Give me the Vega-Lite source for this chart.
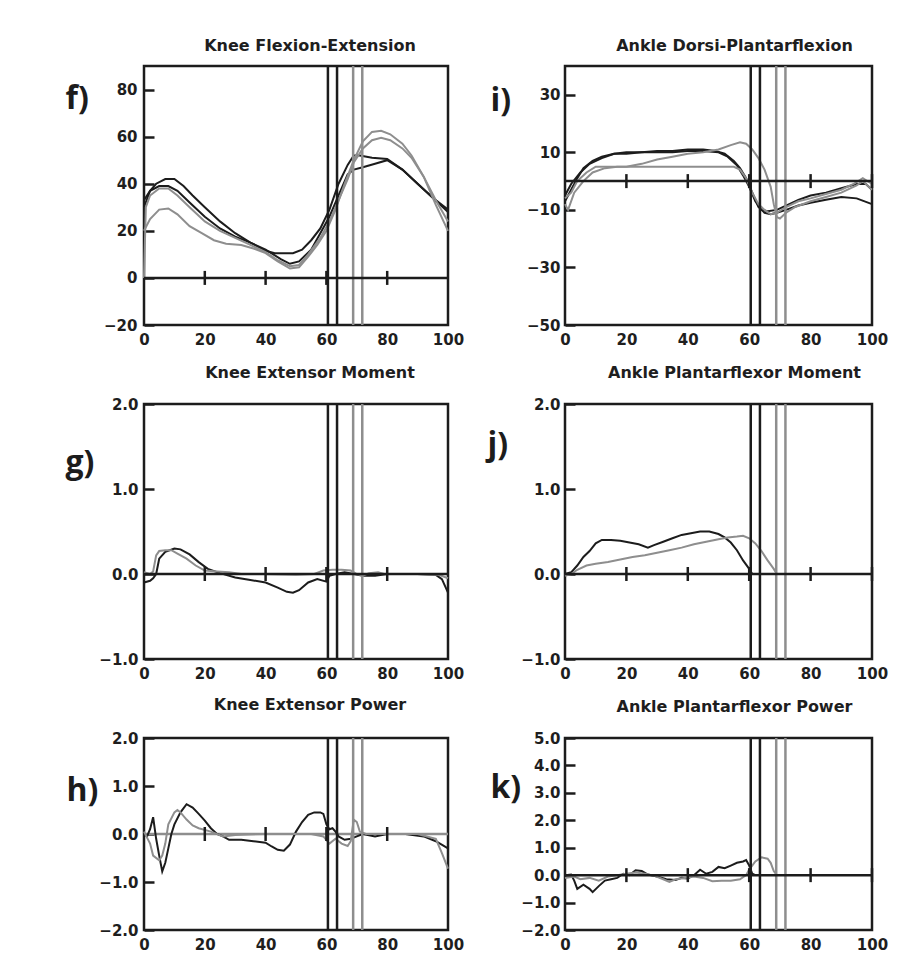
{
  "$schema": "https://vega.github.io/schema/vega-lite/v6.json",
  "padding": {"left": 63, "top": 36, "right": 10, "bottom": 10},
  "background": "white",
  "config": {
    "view": {"stroke": "#1c1c1c", "strokeWidth": 2.5},
    "font": "DejaVu Sans",
    "axis": {"labelFont": "DejaVu Sans", "labelFontWeight": "bold", "labelFontSize": 15, "labelColor": "#1e1e1e", "grid": false, "domain": false, "labelOverlap": false, "tickCount": 12},
    "title": {"font": "DejaVu Sans", "fontSize": 16, "fontWeight": "bold", "color": "#1e1e1e", "anchor": "middle"},
    "line": {"strokeWidth": 2},
    "tick": {"opacity": 1}
  },
  "datasets": {
    "events": [
      {"x": 60.5, "group": "A"}, {"x": 63.5, "group": "A"},
      {"x": 68.8, "group": "B"}, {"x": 71.8, "group": "B"}
    ],
    "ticksA": [{"x": 20}, {"x": 40}, {"x": 60}, {"x": 80}],
    "ticksB": [{"x": 20}, {"x": 40}, {"x": 60}, {"x": 80}, {"x": 100}],
    "f": [
      {"x":0,"y":30,"trial":"A1","group":"A"},{"x":2,"y":37,"trial":"A1","group":"A"},{"x":4,"y":40,"trial":"A1","group":"A"},{"x":7,"y":42,"trial":"A1","group":"A"},{"x":10,"y":42,"trial":"A1","group":"A"},{"x":13,"y":39,"trial":"A1","group":"A"},{"x":16,"y":35,"trial":"A1","group":"A"},{"x":20,"y":30,"trial":"A1","group":"A"},{"x":25,"y":24,"trial":"A1","group":"A"},{"x":30,"y":19,"trial":"A1","group":"A"},{"x":35,"y":15,"trial":"A1","group":"A"},{"x":40,"y":11.5,"trial":"A1","group":"A"},{"x":43,"y":10.5,"trial":"A1","group":"A"},{"x":49,"y":10.5,"trial":"A1","group":"A"},{"x":52,"y":12,"trial":"A1","group":"A"},{"x":55,"y":16,"trial":"A1","group":"A"},{"x":58,"y":21,"trial":"A1","group":"A"},{"x":61,"y":29,"trial":"A1","group":"A"},{"x":64,"y":40,"trial":"A1","group":"A"},{"x":67,"y":48,"trial":"A1","group":"A"},{"x":69,"y":52,"trial":"A1","group":"A"},{"x":71,"y":52,"trial":"A1","group":"A"},{"x":75,"y":51,"trial":"A1","group":"A"},{"x":80,"y":50.5,"trial":"A1","group":"A"},{"x":85,"y":46,"trial":"A1","group":"A"},{"x":90,"y":40,"trial":"A1","group":"A"},{"x":95,"y":34,"trial":"A1","group":"A"},{"x":100,"y":28,"trial":"A1","group":"A"},
      {"x":0,"y":33,"trial":"A2","group":"A"},{"x":2,"y":37,"trial":"A2","group":"A"},{"x":5,"y":39,"trial":"A2","group":"A"},{"x":8,"y":39,"trial":"A2","group":"A"},{"x":11,"y":37,"trial":"A2","group":"A"},{"x":15,"y":32,"trial":"A2","group":"A"},{"x":20,"y":26,"trial":"A2","group":"A"},{"x":25,"y":21,"trial":"A2","group":"A"},{"x":30,"y":17.5,"trial":"A2","group":"A"},{"x":35,"y":15,"trial":"A2","group":"A"},{"x":40,"y":12,"trial":"A2","group":"A"},{"x":45,"y":8,"trial":"A2","group":"A"},{"x":48,"y":6,"trial":"A2","group":"A"},{"x":51,"y":7,"trial":"A2","group":"A"},{"x":55,"y":12,"trial":"A2","group":"A"},{"x":58,"y":19,"trial":"A2","group":"A"},{"x":61,"y":26,"trial":"A2","group":"A"},{"x":64,"y":35,"trial":"A2","group":"A"},{"x":67,"y":44,"trial":"A2","group":"A"},{"x":69,"y":46,"trial":"A2","group":"A"},{"x":72,"y":47,"trial":"A2","group":"A"},{"x":76,"y":48.5,"trial":"A2","group":"A"},{"x":80,"y":50,"trial":"A2","group":"A"},{"x":85,"y":46,"trial":"A2","group":"A"},{"x":90,"y":40,"trial":"A2","group":"A"},{"x":95,"y":34,"trial":"A2","group":"A"},{"x":100,"y":29,"trial":"A2","group":"A"},
      {"x":0,"y":20,"trial":"B1","group":"B"},{"x":2,"y":25,"trial":"B1","group":"B"},{"x":5,"y":29,"trial":"B1","group":"B"},{"x":8,"y":29.5,"trial":"B1","group":"B"},{"x":11,"y":27,"trial":"B1","group":"B"},{"x":15,"y":22,"trial":"B1","group":"B"},{"x":19,"y":19,"trial":"B1","group":"B"},{"x":23,"y":16,"trial":"B1","group":"B"},{"x":27,"y":14.5,"trial":"B1","group":"B"},{"x":32,"y":14,"trial":"B1","group":"B"},{"x":36,"y":12.5,"trial":"B1","group":"B"},{"x":40,"y":10.5,"trial":"B1","group":"B"},{"x":44,"y":7,"trial":"B1","group":"B"},{"x":48,"y":4,"trial":"B1","group":"B"},{"x":51,"y":4.5,"trial":"B1","group":"B"},{"x":54,"y":9,"trial":"B1","group":"B"},{"x":57,"y":14,"trial":"B1","group":"B"},{"x":60,"y":20,"trial":"B1","group":"B"},{"x":63,"y":29,"trial":"B1","group":"B"},{"x":66,"y":40,"trial":"B1","group":"B"},{"x":69,"y":50,"trial":"B1","group":"B"},{"x":72,"y":58,"trial":"B1","group":"B"},{"x":75,"y":62,"trial":"B1","group":"B"},{"x":78,"y":62.5,"trial":"B1","group":"B"},{"x":81,"y":61,"trial":"B1","group":"B"},{"x":85,"y":57,"trial":"B1","group":"B"},{"x":88,"y":52,"trial":"B1","group":"B"},{"x":92,"y":43,"trial":"B1","group":"B"},{"x":96,"y":31,"trial":"B1","group":"B"},{"x":100,"y":20,"trial":"B1","group":"B"},
      {"x":0,"y":0,"trial":"B2","group":"B"},{"x":0.6,"y":30,"trial":"B2","group":"B"},{"x":2,"y":35,"trial":"B2","group":"B"},{"x":5,"y":38,"trial":"B2","group":"B"},{"x":8,"y":38,"trial":"B2","group":"B"},{"x":11,"y":35,"trial":"B2","group":"B"},{"x":15,"y":30,"trial":"B2","group":"B"},{"x":20,"y":24,"trial":"B2","group":"B"},{"x":25,"y":20,"trial":"B2","group":"B"},{"x":30,"y":17,"trial":"B2","group":"B"},{"x":35,"y":14,"trial":"B2","group":"B"},{"x":40,"y":11,"trial":"B2","group":"B"},{"x":44,"y":7.5,"trial":"B2","group":"B"},{"x":48,"y":5,"trial":"B2","group":"B"},{"x":51,"y":5.5,"trial":"B2","group":"B"},{"x":54,"y":10,"trial":"B2","group":"B"},{"x":58,"y":17,"trial":"B2","group":"B"},{"x":61,"y":24,"trial":"B2","group":"B"},{"x":64,"y":33,"trial":"B2","group":"B"},{"x":67,"y":42,"trial":"B2","group":"B"},{"x":69,"y":49,"trial":"B2","group":"B"},{"x":72,"y":55,"trial":"B2","group":"B"},{"x":75,"y":58.5,"trial":"B2","group":"B"},{"x":78,"y":59.5,"trial":"B2","group":"B"},{"x":81,"y":58.5,"trial":"B2","group":"B"},{"x":85,"y":55,"trial":"B2","group":"B"},{"x":88,"y":51,"trial":"B2","group":"B"},{"x":92,"y":43,"trial":"B2","group":"B"},{"x":96,"y":33,"trial":"B2","group":"B"},{"x":100,"y":24,"trial":"B2","group":"B"}
    ],
    "i": [
      {"x":0,"y":-7,"trial":"A1","group":"A"},{"x":2,"y":-3,"trial":"A1","group":"A"},{"x":4,"y":1,"trial":"A1","group":"A"},{"x":6,"y":4.5,"trial":"A1","group":"A"},{"x":9,"y":7,"trial":"A1","group":"A"},{"x":12,"y":8.5,"trial":"A1","group":"A"},{"x":16,"y":9.5,"trial":"A1","group":"A"},{"x":20,"y":10,"trial":"A1","group":"A"},{"x":25,"y":10,"trial":"A1","group":"A"},{"x":30,"y":10.5,"trial":"A1","group":"A"},{"x":35,"y":10.5,"trial":"A1","group":"A"},{"x":40,"y":11,"trial":"A1","group":"A"},{"x":45,"y":11,"trial":"A1","group":"A"},{"x":49,"y":10.5,"trial":"A1","group":"A"},{"x":52,"y":9.5,"trial":"A1","group":"A"},{"x":55,"y":7,"trial":"A1","group":"A"},{"x":57,"y":4.5,"trial":"A1","group":"A"},{"x":59,"y":1,"trial":"A1","group":"A"},{"x":61,"y":-4,"trial":"A1","group":"A"},{"x":63,"y":-9,"trial":"A1","group":"A"},{"x":65,"y":-11,"trial":"A1","group":"A"},{"x":67,"y":-11.5,"trial":"A1","group":"A"},{"x":69,"y":-11,"trial":"A1","group":"A"},{"x":72,"y":-10,"trial":"A1","group":"A"},{"x":76,"y":-8.5,"trial":"A1","group":"A"},{"x":80,"y":-7.5,"trial":"A1","group":"A"},{"x":85,"y":-6.5,"trial":"A1","group":"A"},{"x":90,"y":-5.5,"trial":"A1","group":"A"},{"x":95,"y":-6,"trial":"A1","group":"A"},{"x":100,"y":-8,"trial":"A1","group":"A"},
      {"x":0,"y":-5,"trial":"A2","group":"A"},{"x":2,"y":-1,"trial":"A2","group":"A"},{"x":5,"y":3,"trial":"A2","group":"A"},{"x":8,"y":6,"trial":"A2","group":"A"},{"x":12,"y":8,"trial":"A2","group":"A"},{"x":16,"y":9.5,"trial":"A2","group":"A"},{"x":20,"y":9.5,"trial":"A2","group":"A"},{"x":25,"y":10,"trial":"A2","group":"A"},{"x":30,"y":10,"trial":"A2","group":"A"},{"x":35,"y":10,"trial":"A2","group":"A"},{"x":40,"y":10.5,"trial":"A2","group":"A"},{"x":45,"y":10.5,"trial":"A2","group":"A"},{"x":50,"y":10,"trial":"A2","group":"A"},{"x":53,"y":8.5,"trial":"A2","group":"A"},{"x":56,"y":5.5,"trial":"A2","group":"A"},{"x":58,"y":2,"trial":"A2","group":"A"},{"x":60,"y":-2,"trial":"A2","group":"A"},{"x":62,"y":-7,"trial":"A2","group":"A"},{"x":64,"y":-10,"trial":"A2","group":"A"},{"x":66,"y":-10.5,"trial":"A2","group":"A"},{"x":69,"y":-10,"trial":"A2","group":"A"},{"x":72,"y":-8.5,"trial":"A2","group":"A"},{"x":76,"y":-6.5,"trial":"A2","group":"A"},{"x":80,"y":-5,"trial":"A2","group":"A"},{"x":85,"y":-4,"trial":"A2","group":"A"},{"x":90,"y":-2.5,"trial":"A2","group":"A"},{"x":95,"y":-1,"trial":"A2","group":"A"},{"x":98,"y":-1,"trial":"A2","group":"A"},{"x":100,"y":-3,"trial":"A2","group":"A"},
      {"x":0,"y":-8,"trial":"B1","group":"B"},{"x":1,"y":-10,"trial":"B1","group":"B"},{"x":3,"y":-4,"trial":"B1","group":"B"},{"x":6,"y":0,"trial":"B1","group":"B"},{"x":9,"y":3,"trial":"B1","group":"B"},{"x":13,"y":4.5,"trial":"B1","group":"B"},{"x":17,"y":5,"trial":"B1","group":"B"},{"x":20,"y":5,"trial":"B1","group":"B"},{"x":25,"y":6,"trial":"B1","group":"B"},{"x":30,"y":7.5,"trial":"B1","group":"B"},{"x":35,"y":8.5,"trial":"B1","group":"B"},{"x":40,"y":9.5,"trial":"B1","group":"B"},{"x":45,"y":10,"trial":"B1","group":"B"},{"x":50,"y":11,"trial":"B1","group":"B"},{"x":54,"y":12.5,"trial":"B1","group":"B"},{"x":57,"y":13.5,"trial":"B1","group":"B"},{"x":59,"y":13,"trial":"B1","group":"B"},{"x":61,"y":11,"trial":"B1","group":"B"},{"x":63,"y":8,"trial":"B1","group":"B"},{"x":65,"y":4,"trial":"B1","group":"B"},{"x":67,"y":-2,"trial":"B1","group":"B"},{"x":68,"y":-8,"trial":"B1","group":"B"},{"x":69,"y":-12.5,"trial":"B1","group":"B"},{"x":70,"y":-13,"trial":"B1","group":"B"},{"x":72,"y":-11,"trial":"B1","group":"B"},{"x":75,"y":-9,"trial":"B1","group":"B"},{"x":80,"y":-7,"trial":"B1","group":"B"},{"x":85,"y":-5.5,"trial":"B1","group":"B"},{"x":90,"y":-4,"trial":"B1","group":"B"},{"x":95,"y":-1.5,"trial":"B1","group":"B"},{"x":97,"y":0,"trial":"B1","group":"B"},{"x":100,"y":-3,"trial":"B1","group":"B"},
      {"x":0,"y":-6,"trial":"B2","group":"B"},{"x":2,"y":-4,"trial":"B2","group":"B"},{"x":4,"y":0,"trial":"B2","group":"B"},{"x":7,"y":3,"trial":"B2","group":"B"},{"x":10,"y":5,"trial":"B2","group":"B"},{"x":15,"y":5,"trial":"B2","group":"B"},{"x":25,"y":5,"trial":"B2","group":"B"},{"x":35,"y":5,"trial":"B2","group":"B"},{"x":45,"y":5,"trial":"B2","group":"B"},{"x":55,"y":5,"trial":"B2","group":"B"},{"x":57,"y":4,"trial":"B2","group":"B"},{"x":59,"y":1,"trial":"B2","group":"B"},{"x":61,"y":-4,"trial":"B2","group":"B"},{"x":63,"y":-8,"trial":"B2","group":"B"},{"x":65,"y":-10,"trial":"B2","group":"B"},{"x":67,"y":-11.5,"trial":"B2","group":"B"},{"x":69,"y":-11,"trial":"B2","group":"B"},{"x":72,"y":-9,"trial":"B2","group":"B"},{"x":76,"y":-7,"trial":"B2","group":"B"},{"x":80,"y":-6,"trial":"B2","group":"B"},{"x":85,"y":-4.5,"trial":"B2","group":"B"},{"x":90,"y":-3,"trial":"B2","group":"B"},{"x":94,"y":-1,"trial":"B2","group":"B"},{"x":97,"y":1,"trial":"B2","group":"B"},{"x":100,"y":-1,"trial":"B2","group":"B"}
    ],
    "g": [
      {"x":0,"y":-0.1,"trial":"A1","group":"A"},{"x":2,"y":-0.08,"trial":"A1","group":"A"},{"x":3,"y":-0.05,"trial":"A1","group":"A"},{"x":4,"y":0,"trial":"A1","group":"A"},{"x":5,"y":0.18,"trial":"A1","group":"A"},{"x":7,"y":0.26,"trial":"A1","group":"A"},{"x":10,"y":0.3,"trial":"A1","group":"A"},{"x":12,"y":0.29,"trial":"A1","group":"A"},{"x":15,"y":0.23,"trial":"A1","group":"A"},{"x":18,"y":0.14,"trial":"A1","group":"A"},{"x":21,"y":0.06,"trial":"A1","group":"A"},{"x":25,"y":0.01,"trial":"A1","group":"A"},{"x":30,"y":-0.04,"trial":"A1","group":"A"},{"x":35,"y":-0.07,"trial":"A1","group":"A"},{"x":40,"y":-0.1,"trial":"A1","group":"A"},{"x":44,"y":-0.16,"trial":"A1","group":"A"},{"x":47,"y":-0.21,"trial":"A1","group":"A"},{"x":49,"y":-0.22,"trial":"A1","group":"A"},{"x":51,"y":-0.19,"trial":"A1","group":"A"},{"x":54,"y":-0.1,"trial":"A1","group":"A"},{"x":57,"y":-0.06,"trial":"A1","group":"A"},{"x":60,"y":-0.09,"trial":"A1","group":"A"},{"x":61,"y":-0.02,"trial":"A1","group":"A"},{"x":63,"y":0,"trial":"A1","group":"A"},{"x":66,"y":0.02,"trial":"A1","group":"A"},{"x":69,"y":0,"trial":"A1","group":"A"},{"x":72,"y":-0.02,"trial":"A1","group":"A"},{"x":76,"y":-0.02,"trial":"A1","group":"A"},{"x":80,"y":0,"trial":"A1","group":"A"},{"x":90,"y":0,"trial":"A1","group":"A"},{"x":96,"y":-0.01,"trial":"A1","group":"A"},{"x":98,"y":-0.06,"trial":"A1","group":"A"},{"x":100,"y":-0.22,"trial":"A1","group":"A"},
      {"x":0,"y":0.02,"trial":"B1","group":"B"},{"x":2,"y":0,"trial":"B1","group":"B"},{"x":3,"y":0.03,"trial":"B1","group":"B"},{"x":4,"y":0.22,"trial":"B1","group":"B"},{"x":5,"y":0.27,"trial":"B1","group":"B"},{"x":7,"y":0.28,"trial":"B1","group":"B"},{"x":9,"y":0.28,"trial":"B1","group":"B"},{"x":11,"y":0.24,"trial":"B1","group":"B"},{"x":14,"y":0.18,"trial":"B1","group":"B"},{"x":17,"y":0.1,"trial":"B1","group":"B"},{"x":20,"y":0.04,"trial":"B1","group":"B"},{"x":24,"y":0.03,"trial":"B1","group":"B"},{"x":28,"y":0.02,"trial":"B1","group":"B"},{"x":32,"y":0,"trial":"B1","group":"B"},{"x":40,"y":0,"trial":"B1","group":"B"},{"x":50,"y":-0.01,"trial":"B1","group":"B"},{"x":56,"y":0,"trial":"B1","group":"B"},{"x":59,"y":0.04,"trial":"B1","group":"B"},{"x":62,"y":0.05,"trial":"B1","group":"B"},{"x":65,"y":0.05,"trial":"B1","group":"B"},{"x":68,"y":0.04,"trial":"B1","group":"B"},{"x":70,"y":0,"trial":"B1","group":"B"},{"x":72,"y":-0.02,"trial":"B1","group":"B"},{"x":74,"y":0.01,"trial":"B1","group":"B"},{"x":77,"y":0.02,"trial":"B1","group":"B"},{"x":79,"y":0,"trial":"B1","group":"B"},{"x":90,"y":0,"trial":"B1","group":"B"},{"x":97,"y":-0.01,"trial":"B1","group":"B"},{"x":100,"y":-0.05,"trial":"B1","group":"B"}
    ],
    "j": [
      {"x":0,"y":0,"trial":"A1","group":"A"},{"x":2,"y":0.02,"trial":"A1","group":"A"},{"x":4,"y":0.1,"trial":"A1","group":"A"},{"x":6,"y":0.2,"trial":"A1","group":"A"},{"x":8,"y":0.27,"trial":"A1","group":"A"},{"x":10,"y":0.36,"trial":"A1","group":"A"},{"x":12,"y":0.4,"trial":"A1","group":"A"},{"x":15,"y":0.4,"trial":"A1","group":"A"},{"x":18,"y":0.39,"trial":"A1","group":"A"},{"x":21,"y":0.37,"trial":"A1","group":"A"},{"x":24,"y":0.35,"trial":"A1","group":"A"},{"x":27,"y":0.31,"trial":"A1","group":"A"},{"x":29,"y":0.34,"trial":"A1","group":"A"},{"x":32,"y":0.38,"trial":"A1","group":"A"},{"x":35,"y":0.42,"trial":"A1","group":"A"},{"x":38,"y":0.46,"trial":"A1","group":"A"},{"x":41,"y":0.48,"trial":"A1","group":"A"},{"x":44,"y":0.5,"trial":"A1","group":"A"},{"x":47,"y":0.5,"trial":"A1","group":"A"},{"x":50,"y":0.47,"trial":"A1","group":"A"},{"x":52,"y":0.43,"trial":"A1","group":"A"},{"x":54,"y":0.37,"trial":"A1","group":"A"},{"x":56,"y":0.28,"trial":"A1","group":"A"},{"x":58,"y":0.16,"trial":"A1","group":"A"},{"x":60,"y":0.06,"trial":"A1","group":"A"},{"x":61,"y":0,"trial":"A1","group":"A"},
      {"x":0,"y":-0.02,"trial":"B1","group":"B"},{"x":2,"y":0,"trial":"B1","group":"B"},{"x":4,"y":0.05,"trial":"B1","group":"B"},{"x":7,"y":0.1,"trial":"B1","group":"B"},{"x":10,"y":0.12,"trial":"B1","group":"B"},{"x":14,"y":0.14,"trial":"B1","group":"B"},{"x":18,"y":0.17,"trial":"B1","group":"B"},{"x":22,"y":0.2,"trial":"B1","group":"B"},{"x":26,"y":0.22,"trial":"B1","group":"B"},{"x":30,"y":0.25,"trial":"B1","group":"B"},{"x":34,"y":0.28,"trial":"B1","group":"B"},{"x":38,"y":0.31,"trial":"B1","group":"B"},{"x":42,"y":0.35,"trial":"B1","group":"B"},{"x":46,"y":0.38,"trial":"B1","group":"B"},{"x":50,"y":0.41,"trial":"B1","group":"B"},{"x":53,"y":0.43,"trial":"B1","group":"B"},{"x":56,"y":0.44,"trial":"B1","group":"B"},{"x":58,"y":0.45,"trial":"B1","group":"B"},{"x":60,"y":0.42,"trial":"B1","group":"B"},{"x":62,"y":0.36,"trial":"B1","group":"B"},{"x":64,"y":0.27,"trial":"B1","group":"B"},{"x":66,"y":0.16,"trial":"B1","group":"B"},{"x":68,"y":0.06,"trial":"B1","group":"B"},{"x":69,"y":0,"trial":"B1","group":"B"}
    ],
    "h": [
      {"x":0,"y":0,"trial":"A1","group":"A"},{"x":1,"y":-0.05,"trial":"A1","group":"A"},{"x":2,"y":0.1,"trial":"A1","group":"A"},{"x":3,"y":0.35,"trial":"A1","group":"A"},{"x":4,"y":-0.1,"trial":"A1","group":"A"},{"x":5,"y":-0.45,"trial":"A1","group":"A"},{"x":6,"y":-0.78,"trial":"A1","group":"A"},{"x":7,"y":-0.6,"trial":"A1","group":"A"},{"x":8,"y":-0.3,"trial":"A1","group":"A"},{"x":9,"y":0,"trial":"A1","group":"A"},{"x":10,"y":0.2,"trial":"A1","group":"A"},{"x":12,"y":0.45,"trial":"A1","group":"A"},{"x":14,"y":0.62,"trial":"A1","group":"A"},{"x":16,"y":0.55,"trial":"A1","group":"A"},{"x":18,"y":0.42,"trial":"A1","group":"A"},{"x":20,"y":0.28,"trial":"A1","group":"A"},{"x":22,"y":0.12,"trial":"A1","group":"A"},{"x":24,"y":0,"trial":"A1","group":"A"},{"x":26,"y":-0.05,"trial":"A1","group":"A"},{"x":28,"y":-0.12,"trial":"A1","group":"A"},{"x":32,"y":-0.12,"trial":"A1","group":"A"},{"x":36,"y":-0.15,"trial":"A1","group":"A"},{"x":40,"y":-0.18,"trial":"A1","group":"A"},{"x":42,"y":-0.26,"trial":"A1","group":"A"},{"x":44,"y":-0.33,"trial":"A1","group":"A"},{"x":46,"y":-0.35,"trial":"A1","group":"A"},{"x":48,"y":-0.22,"trial":"A1","group":"A"},{"x":50,"y":0.05,"trial":"A1","group":"A"},{"x":52,"y":0.25,"trial":"A1","group":"A"},{"x":54,"y":0.4,"trial":"A1","group":"A"},{"x":56,"y":0.45,"trial":"A1","group":"A"},{"x":58,"y":0.45,"trial":"A1","group":"A"},{"x":59,"y":0.42,"trial":"A1","group":"A"},{"x":60,"y":0.2,"trial":"A1","group":"A"},{"x":61,"y":0.1,"trial":"A1","group":"A"},{"x":62,"y":0.12,"trial":"A1","group":"A"},{"x":63,"y":0.05,"trial":"A1","group":"A"},{"x":64,"y":-0.05,"trial":"A1","group":"A"},{"x":66,"y":-0.12,"trial":"A1","group":"A"},{"x":68,"y":-0.1,"trial":"A1","group":"A"},{"x":70,"y":-0.05,"trial":"A1","group":"A"},{"x":72,"y":0,"trial":"A1","group":"A"},{"x":76,"y":-0.05,"trial":"A1","group":"A"},{"x":80,"y":0,"trial":"A1","group":"A"},{"x":86,"y":0,"trial":"A1","group":"A"},{"x":92,"y":-0.05,"trial":"A1","group":"A"},{"x":96,"y":-0.15,"trial":"A1","group":"A"},{"x":100,"y":-0.3,"trial":"A1","group":"A"},
      {"x":0,"y":0.05,"trial":"B1","group":"B"},{"x":2,"y":-0.2,"trial":"B1","group":"B"},{"x":3,"y":-0.45,"trial":"B1","group":"B"},{"x":5,"y":-0.55,"trial":"B1","group":"B"},{"x":6,"y":-0.45,"trial":"B1","group":"B"},{"x":7,"y":-0.2,"trial":"B1","group":"B"},{"x":8,"y":0.2,"trial":"B1","group":"B"},{"x":10,"y":0.45,"trial":"B1","group":"B"},{"x":11,"y":0.5,"trial":"B1","group":"B"},{"x":12,"y":0.45,"trial":"B1","group":"B"},{"x":14,"y":0.3,"trial":"B1","group":"B"},{"x":16,"y":0.18,"trial":"B1","group":"B"},{"x":18,"y":0.12,"trial":"B1","group":"B"},{"x":22,"y":0.05,"trial":"B1","group":"B"},{"x":26,"y":-0.05,"trial":"B1","group":"B"},{"x":30,"y":-0.02,"trial":"B1","group":"B"},{"x":40,"y":0,"trial":"B1","group":"B"},{"x":55,"y":0,"trial":"B1","group":"B"},{"x":59,"y":-0.05,"trial":"B1","group":"B"},{"x":61,"y":-0.2,"trial":"B1","group":"B"},{"x":63,"y":-0.1,"trial":"B1","group":"B"},{"x":65,"y":-0.2,"trial":"B1","group":"B"},{"x":67,"y":-0.25,"trial":"B1","group":"B"},{"x":68,"y":-0.15,"trial":"B1","group":"B"},{"x":69,"y":0.3,"trial":"B1","group":"B"},{"x":70,"y":0.25,"trial":"B1","group":"B"},{"x":71,"y":0.05,"trial":"B1","group":"B"},{"x":73,"y":0,"trial":"B1","group":"B"},{"x":80,"y":0,"trial":"B1","group":"B"},{"x":90,"y":0,"trial":"B1","group":"B"},{"x":96,"y":-0.1,"trial":"B1","group":"B"},{"x":98,"y":-0.4,"trial":"B1","group":"B"},{"x":100,"y":-0.72,"trial":"B1","group":"B"}
    ],
    "k": [
      {"x":0,"y":0,"trial":"A1","group":"A"},{"x":2,"y":0.02,"trial":"A1","group":"A"},{"x":3,"y":-0.2,"trial":"A1","group":"A"},{"x":4,"y":-0.5,"trial":"A1","group":"A"},{"x":6,"y":-0.35,"trial":"A1","group":"A"},{"x":8,"y":-0.5,"trial":"A1","group":"A"},{"x":9,"y":-0.62,"trial":"A1","group":"A"},{"x":11,"y":-0.4,"trial":"A1","group":"A"},{"x":13,"y":-0.2,"trial":"A1","group":"A"},{"x":15,"y":-0.15,"trial":"A1","group":"A"},{"x":17,"y":-0.1,"trial":"A1","group":"A"},{"x":19,"y":0.05,"trial":"A1","group":"A"},{"x":21,"y":0,"trial":"A1","group":"A"},{"x":23,"y":0.18,"trial":"A1","group":"A"},{"x":25,"y":0.15,"trial":"A1","group":"A"},{"x":27,"y":0.02,"trial":"A1","group":"A"},{"x":30,"y":-0.05,"trial":"A1","group":"A"},{"x":33,"y":-0.15,"trial":"A1","group":"A"},{"x":36,"y":-0.18,"trial":"A1","group":"A"},{"x":38,"y":-0.1,"trial":"A1","group":"A"},{"x":40,"y":-0.12,"trial":"A1","group":"A"},{"x":42,"y":0,"trial":"A1","group":"A"},{"x":44,"y":0.2,"trial":"A1","group":"A"},{"x":46,"y":0.05,"trial":"A1","group":"A"},{"x":48,"y":0.12,"trial":"A1","group":"A"},{"x":50,"y":0.3,"trial":"A1","group":"A"},{"x":52,"y":0.25,"trial":"A1","group":"A"},{"x":54,"y":0.35,"trial":"A1","group":"A"},{"x":56,"y":0.45,"trial":"A1","group":"A"},{"x":58,"y":0.5,"trial":"A1","group":"A"},{"x":59,"y":0.55,"trial":"A1","group":"A"},{"x":60,"y":0.35,"trial":"A1","group":"A"},{"x":61,"y":0.05,"trial":"A1","group":"A"},{"x":62,"y":0,"trial":"A1","group":"A"},
      {"x":0,"y":-0.1,"trial":"B1","group":"B"},{"x":3,"y":-0.05,"trial":"B1","group":"B"},{"x":5,"y":-0.15,"trial":"B1","group":"B"},{"x":8,"y":-0.1,"trial":"B1","group":"B"},{"x":11,"y":-0.2,"trial":"B1","group":"B"},{"x":14,"y":-0.05,"trial":"B1","group":"B"},{"x":17,"y":0,"trial":"B1","group":"B"},{"x":20,"y":0.05,"trial":"B1","group":"B"},{"x":23,"y":0.1,"trial":"B1","group":"B"},{"x":26,"y":0.05,"trial":"B1","group":"B"},{"x":29,"y":-0.02,"trial":"B1","group":"B"},{"x":32,"y":-0.15,"trial":"B1","group":"B"},{"x":34,"y":-0.25,"trial":"B1","group":"B"},{"x":36,"y":-0.15,"trial":"B1","group":"B"},{"x":39,"y":-0.1,"trial":"B1","group":"B"},{"x":42,"y":-0.05,"trial":"B1","group":"B"},{"x":45,"y":-0.1,"trial":"B1","group":"B"},{"x":48,"y":-0.22,"trial":"B1","group":"B"},{"x":51,"y":-0.2,"trial":"B1","group":"B"},{"x":54,"y":-0.2,"trial":"B1","group":"B"},{"x":57,"y":-0.15,"trial":"B1","group":"B"},{"x":59,"y":0,"trial":"B1","group":"B"},{"x":60,"y":0.2,"trial":"B1","group":"B"},{"x":62,"y":0.5,"trial":"B1","group":"B"},{"x":64,"y":0.65,"trial":"B1","group":"B"},{"x":66,"y":0.6,"trial":"B1","group":"B"},{"x":67,"y":0.45,"trial":"B1","group":"B"},{"x":68,"y":0.15,"trial":"B1","group":"B"},{"x":69,"y":0,"trial":"B1","group":"B"}
    ]
  },
  "bounds": "flush",
  "columns": 2,
  "spacing": {"row": 79, "column": 117},
  "concat": [
    {
      "width": 304, "height": 259,
      "title": {"text": "Knee Flexion-Extension", "offset": 11, "dx": 14},
      "layer": [
        {"data": {"name": "f"}, "mark": {"type": "line", "strokeWidth": 2},
         "encoding": {
           "x": {"field": "x", "type": "quantitative", "scale": {"domain": [0, 100]}, "axis": {"values": [0, 20, 40, 60, 80, 100], "tickCount": 12, "ticks": false, "labelPadding": 7, "labelFlush": false, "title": null}},
           "y": {"field": "y", "type": "quantitative", "scale": {"domain": [-20, 90]}, "axis": {"values": [-20, 0, 20, 40, 60, 80], "tickCount": 12, "format": "d", "tickSize": -10, "tickWidth": 2.5, "tickColor": "#1c1c1c", "labelPadding": 17, "title": "f)", "titleAngle": 0, "titleX": -79, "titleY": 32, "titleAlign": "left", "titleBaseline": "middle", "titleFont": "Open Sans", "titleFontSize": 32, "titleFontWeight": "bold", "titleColor": "#1c1c1c"}},
           "detail": {"field": "trial"},
           "color": {"field": "group", "type": "nominal", "scale": {"domain": ["A", "B"], "range": ["#1c1c1c", "#8e8e8e"]}, "legend": null}
         }},
        {"data": {"name": "events"}, "mark": {"type": "rule", "strokeWidth": 2.5},
         "encoding": {"x": {"field": "x", "type": "quantitative"}, "color": {"field": "group", "type": "nominal", "legend": null}}},
        {"data": {"values": [{}]}, "mark": {"type": "rule", "color": "#1c1c1c", "strokeWidth": 2.5}, "encoding": {"y": {"datum": 0}}},
        {"data": {"name": "ticksA"}, "mark": {"type": "tick", "orient": "vertical", "size": 14, "thickness": 2.5, "color": "#1c1c1c", "opacity": 1},
         "encoding": {"x": {"field": "x", "type": "quantitative"}, "y": {"datum": 0}}}
      ]
    },
    {
      "width": 307, "height": 259,
      "title": {"text": "Ankle Dorsi-Plantarflexion", "offset": 11, "dx": 16},
      "layer": [
        {"data": {"name": "i"}, "mark": {"type": "line", "strokeWidth": 2},
         "encoding": {
           "x": {"field": "x", "type": "quantitative", "scale": {"domain": [0, 100]}, "axis": {"values": [0, 20, 40, 60, 80, 100], "tickCount": 12, "ticks": false, "labelPadding": 7, "labelFlush": false, "title": null}},
           "y": {"field": "y", "type": "quantitative", "scale": {"domain": [-50, 35.6]}, "axis": {"values": [-50, -30, -10, 10, 30], "tickCount": 12, "format": "d", "tickSize": -10, "tickWidth": 2.5, "tickColor": "#1c1c1c", "labelPadding": 15, "title": "i)", "titleAngle": 0, "titleX": -75, "titleY": 34, "titleAlign": "left", "titleBaseline": "middle", "titleFont": "Open Sans", "titleFontSize": 32, "titleFontWeight": "bold", "titleColor": "#1c1c1c"}},
           "detail": {"field": "trial"},
           "color": {"field": "group", "type": "nominal", "legend": null}
         }},
        {"data": {"name": "events"}, "mark": {"type": "rule", "strokeWidth": 2.5},
         "encoding": {"x": {"field": "x", "type": "quantitative"}, "color": {"field": "group", "type": "nominal", "legend": null}}},
        {"data": {"values": [{}]}, "mark": {"type": "rule", "color": "#1c1c1c", "strokeWidth": 2.5}, "encoding": {"y": {"datum": 0}}},
        {"data": {"name": "ticksB"}, "mark": {"type": "tick", "orient": "vertical", "size": 14, "thickness": 2.5, "color": "#1c1c1c", "opacity": 1},
         "encoding": {"x": {"field": "x", "type": "quantitative"}, "y": {"datum": 0}}}
      ]
    },
    {
      "width": 304, "height": 255,
      "title": {"text": "Knee Extensor Moment", "offset": 16, "dx": 14},
      "layer": [
        {"data": {"name": "g"}, "mark": {"type": "line", "strokeWidth": 2},
         "encoding": {
           "x": {"field": "x", "type": "quantitative", "scale": {"domain": [0, 100]}, "axis": {"values": [0, 20, 40, 60, 80, 100], "tickCount": 12, "ticks": false, "labelPadding": 7, "labelFlush": false, "title": null}},
           "y": {"field": "y", "type": "quantitative", "scale": {"domain": [-1, 2]}, "axis": {"values": [-1, 0, 1, 2], "tickCount": 12, "format": ".1f", "tickSize": -10, "tickWidth": 2.5, "tickColor": "#1c1c1c", "labelPadding": 16, "title": "g)", "titleAngle": 0, "titleX": -79, "titleY": 58, "titleAlign": "left", "titleBaseline": "middle", "titleFont": "Open Sans", "titleFontSize": 32, "titleFontWeight": "bold", "titleColor": "#1c1c1c"}},
           "detail": {"field": "trial"},
           "color": {"field": "group", "type": "nominal", "legend": null}
         }},
        {"data": {"name": "events"}, "mark": {"type": "rule", "strokeWidth": 2.5},
         "encoding": {"x": {"field": "x", "type": "quantitative"}, "color": {"field": "group", "type": "nominal", "legend": null}}},
        {"data": {"values": [{}]}, "mark": {"type": "rule", "color": "#1c1c1c", "strokeWidth": 2.5}, "encoding": {"y": {"datum": 0}}},
        {"data": {"name": "ticksA"}, "mark": {"type": "tick", "orient": "vertical", "size": 14, "thickness": 2.5, "color": "#1c1c1c", "opacity": 1},
         "encoding": {"x": {"field": "x", "type": "quantitative"}, "y": {"datum": 0}}}
      ]
    },
    {
      "width": 307, "height": 255,
      "title": {"text": "Ankle Plantarflexor Moment", "offset": 16, "dx": 16},
      "layer": [
        {"data": {"name": "j"}, "mark": {"type": "line", "strokeWidth": 2},
         "encoding": {
           "x": {"field": "x", "type": "quantitative", "scale": {"domain": [0, 100]}, "axis": {"values": [0, 20, 40, 60, 80, 100], "tickCount": 12, "ticks": false, "labelPadding": 7, "labelFlush": false, "title": null}},
           "y": {"field": "y", "type": "quantitative", "scale": {"domain": [-1, 2]}, "axis": {"values": [-1, 0, 1, 2], "tickCount": 12, "format": ".1f", "tickSize": -10, "tickWidth": 2.5, "tickColor": "#1c1c1c", "labelPadding": 15, "title": "j)", "titleAngle": 0, "titleX": -78, "titleY": 40, "titleAlign": "left", "titleBaseline": "middle", "titleFont": "Open Sans", "titleFontSize": 32, "titleFontWeight": "bold", "titleColor": "#1c1c1c"}},
           "detail": {"field": "trial"},
           "color": {"field": "group", "type": "nominal", "legend": null}
         }},
        {"data": {"name": "events"}, "mark": {"type": "rule", "strokeWidth": 2.5},
         "encoding": {"x": {"field": "x", "type": "quantitative"}, "color": {"field": "group", "type": "nominal", "legend": null}}},
        {"data": {"values": [{}]}, "mark": {"type": "rule", "color": "#1c1c1c", "strokeWidth": 2.5}, "encoding": {"y": {"datum": 0}}},
        {"data": {"name": "ticksB"}, "mark": {"type": "tick", "orient": "vertical", "size": 14, "thickness": 2.5, "color": "#1c1c1c", "opacity": 1},
         "encoding": {"x": {"field": "x", "type": "quantitative"}, "y": {"datum": 0}}}
      ]
    },
    {
      "width": 304, "height": 192,
      "title": {"text": "Knee Extensor Power", "offset": 18, "dx": 14},
      "layer": [
        {"data": {"values": [{}]}, "mark": {"type": "rule", "color": "#8e8e8e", "strokeWidth": 2.5}, "encoding": {"y": {"datum": 0}}},
        {"data": {"name": "h"}, "mark": {"type": "line", "strokeWidth": 2},
         "encoding": {
           "x": {"field": "x", "type": "quantitative", "scale": {"domain": [0, 100]}, "axis": {"values": [0, 20, 40, 60, 80, 100], "tickCount": 12, "ticks": false, "labelPadding": 7, "labelFlush": false, "title": null}},
           "y": {"field": "y", "type": "quantitative", "scale": {"domain": [-2, 2]}, "axis": {"values": [-2, -1, 0, 1, 2], "tickCount": 12, "format": ".1f", "tickSize": -10, "tickWidth": 2.5, "tickColor": "#1c1c1c", "labelPadding": 16, "title": "h)", "titleAngle": 0, "titleX": -78, "titleY": 52, "titleAlign": "left", "titleBaseline": "middle", "titleFont": "Open Sans", "titleFontSize": 32, "titleFontWeight": "bold", "titleColor": "#1c1c1c"}},
           "detail": {"field": "trial"},
           "color": {"field": "group", "type": "nominal", "legend": null}
         }},
        {"data": {"name": "events"}, "mark": {"type": "rule", "strokeWidth": 2.5},
         "encoding": {"x": {"field": "x", "type": "quantitative"}, "color": {"field": "group", "type": "nominal", "legend": null}}},
        {"data": {"name": "ticksA"}, "mark": {"type": "tick", "orient": "vertical", "size": 14, "thickness": 2.5, "color": "#1c1c1c", "opacity": 1},
         "encoding": {"x": {"field": "x", "type": "quantitative"}, "y": {"datum": 0}}}
      ]
    },
    {
      "width": 307, "height": 192,
      "title": {"text": "Ankle Plantarflexor Power", "offset": 16, "dx": 16},
      "layer": [
        {"data": {"name": "k"}, "mark": {"type": "line", "strokeWidth": 2},
         "encoding": {
           "x": {"field": "x", "type": "quantitative", "scale": {"domain": [0, 100]}, "axis": {"values": [0, 20, 40, 60, 80, 100], "tickCount": 12, "ticks": false, "labelPadding": 7, "labelFlush": false, "title": null}},
           "y": {"field": "y", "type": "quantitative", "scale": {"domain": [-2, 5]}, "axis": {"values": [-2, -1, 0, 1, 2, 3, 4, 5], "tickCount": 12, "format": ".1f", "tickSize": -10, "tickWidth": 2.5, "tickColor": "#1c1c1c", "labelPadding": 15, "labelOverlap": false, "title": "k)", "titleAngle": 0, "titleX": -75, "titleY": 49, "titleAlign": "left", "titleBaseline": "middle", "titleFont": "Open Sans", "titleFontSize": 32, "titleFontWeight": "bold", "titleColor": "#1c1c1c"}},
           "detail": {"field": "trial"},
           "color": {"field": "group", "type": "nominal", "legend": null}
         }},
        {"data": {"name": "events"}, "mark": {"type": "rule", "strokeWidth": 2.5},
         "encoding": {"x": {"field": "x", "type": "quantitative"}, "color": {"field": "group", "type": "nominal", "legend": null}}},
        {"data": {"values": [{}]}, "mark": {"type": "rule", "color": "#1c1c1c", "strokeWidth": 2.5}, "encoding": {"y": {"datum": 0}}},
        {"data": {"name": "ticksB"}, "mark": {"type": "tick", "orient": "vertical", "size": 14, "thickness": 2.5, "color": "#1c1c1c", "opacity": 1},
         "encoding": {"x": {"field": "x", "type": "quantitative"}, "y": {"datum": 0}}}
      ]
    }
  ]
}
